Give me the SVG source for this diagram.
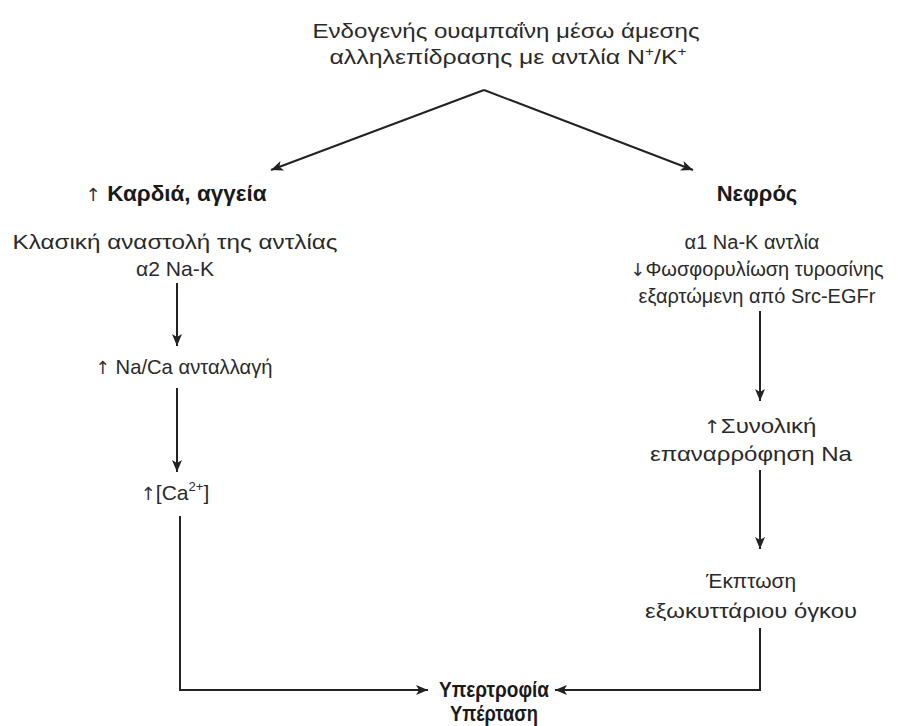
<svg xmlns="http://www.w3.org/2000/svg" width="905" height="726" viewBox="0 0 905 726">
<defs>
<style>
.t{font-family:"Liberation Sans",Arial,sans-serif;font-size:21px;fill:#2a2a2a;text-anchor:middle}
.r{font-size:20px}
.b{font-weight:bold;font-size:22px;fill:#1a1a1a}
.c{fill:none;stroke:#222;stroke-width:2}
.sup{font-size:13px}
.ar{font-family:"DejaVu Sans",sans-serif;font-weight:normal;font-size:18px;fill:#333}
</style>
<marker id="ah" markerUnits="userSpaceOnUse" markerWidth="14" markerHeight="12" refX="12" refY="5" orient="auto">
<path d="M0,0 L12,5 L0,10 L3,5 z" fill="#222"/>
</marker>
</defs>
<rect width="905" height="726" fill="#fff"/>
<g id="connectors">
<line class="c" x1="484" y1="90" x2="271" y2="170" marker-end="url(#ah)"/>
<line class="c" x1="484" y1="90" x2="693" y2="170" marker-end="url(#ah)"/>
<line class="c" x1="177" y1="283" x2="177" y2="346" marker-end="url(#ah)"/>
<line class="c" x1="177" y1="388" x2="177" y2="472" marker-end="url(#ah)"/>
<polyline class="c" points="180,516 180,690 428,690" marker-end="url(#ah)"/>
<line class="c" x1="760" y1="311" x2="760" y2="401" marker-end="url(#ah)"/>
<line class="c" x1="760" y1="470" x2="760" y2="549" marker-end="url(#ah)"/>
<polyline class="c" points="760,628 760,690 555,690" marker-end="url(#ah)"/>
</g>
<g id="source">
<text class="t" x="506" y="38" textLength="387" lengthAdjust="spacingAndGlyphs">Ενδογενής ουαμπαΐνη μέσω άμεσης</text>
<text class="t" x="508" y="64" textLength="357" lengthAdjust="spacingAndGlyphs">αλληλεπίδρασης με αντλία N<tspan class="sup" dy="-8">+</tspan><tspan dy="8">/K</tspan><tspan class="sup" dy="-8">+</tspan></text>
</g>
<g id="heart">
<text class="t b" x="176" y="201" textLength="181" lengthAdjust="spacingAndGlyphs"><tspan class="ar">↑</tspan> Καρδιά, αγγεία</text>
<text class="t" x="175" y="249" textLength="325" lengthAdjust="spacingAndGlyphs">Κλασική αναστολή της αντλίας</text>
<text class="t" x="175" y="276" textLength="78" lengthAdjust="spacingAndGlyphs">α2 Na-K</text>
</g>
<g id="kidney">
<text class="t b" x="757" y="201">Νεφρός</text>
<text class="t r" x="752" y="249">α1 Na-K αντλία</text>
<text class="t r" x="757" y="276"><tspan class="ar">↓</tspan>Φωσφορυλίωση τυροσίνης</text>
<text class="t r" x="757" y="303">εξαρτώμενη από Src-EGFr</text>
</g>
<g id="naca">
<text class="t" x="184" y="374" textLength="177" lengthAdjust="spacingAndGlyphs"><tspan class="ar">↑</tspan> Na/Ca ανταλλαγή</text>
</g>
<g id="calcium">
<text class="t" x="175" y="500"><tspan class="ar">↑</tspan>[Ca<tspan class="sup" dy="-9">2+</tspan><tspan dy="9">]</tspan></text>
</g>
<g id="reabsorption">
<text class="t" x="760" y="433" textLength="113" lengthAdjust="spacingAndGlyphs"><tspan class="ar">↑</tspan>Συνολική</text>
<text class="t" x="751" y="461" textLength="202" lengthAdjust="spacingAndGlyphs">επαναρρόφηση Na</text>
</g>
<g id="volume">
<text class="t" x="751" y="588" textLength="90" lengthAdjust="spacingAndGlyphs">Έκπτωση</text>
<text class="t" x="751" y="618" textLength="212" lengthAdjust="spacingAndGlyphs">εξωκυττάριου όγκου</text>
</g>
<g id="outcome">
<text class="t b" x="494" y="697" textLength="110" lengthAdjust="spacingAndGlyphs">Υπερτροφία</text>
<text class="t b" x="494" y="721" textLength="88" lengthAdjust="spacingAndGlyphs">Υπέρταση</text>
</g>
</svg>
